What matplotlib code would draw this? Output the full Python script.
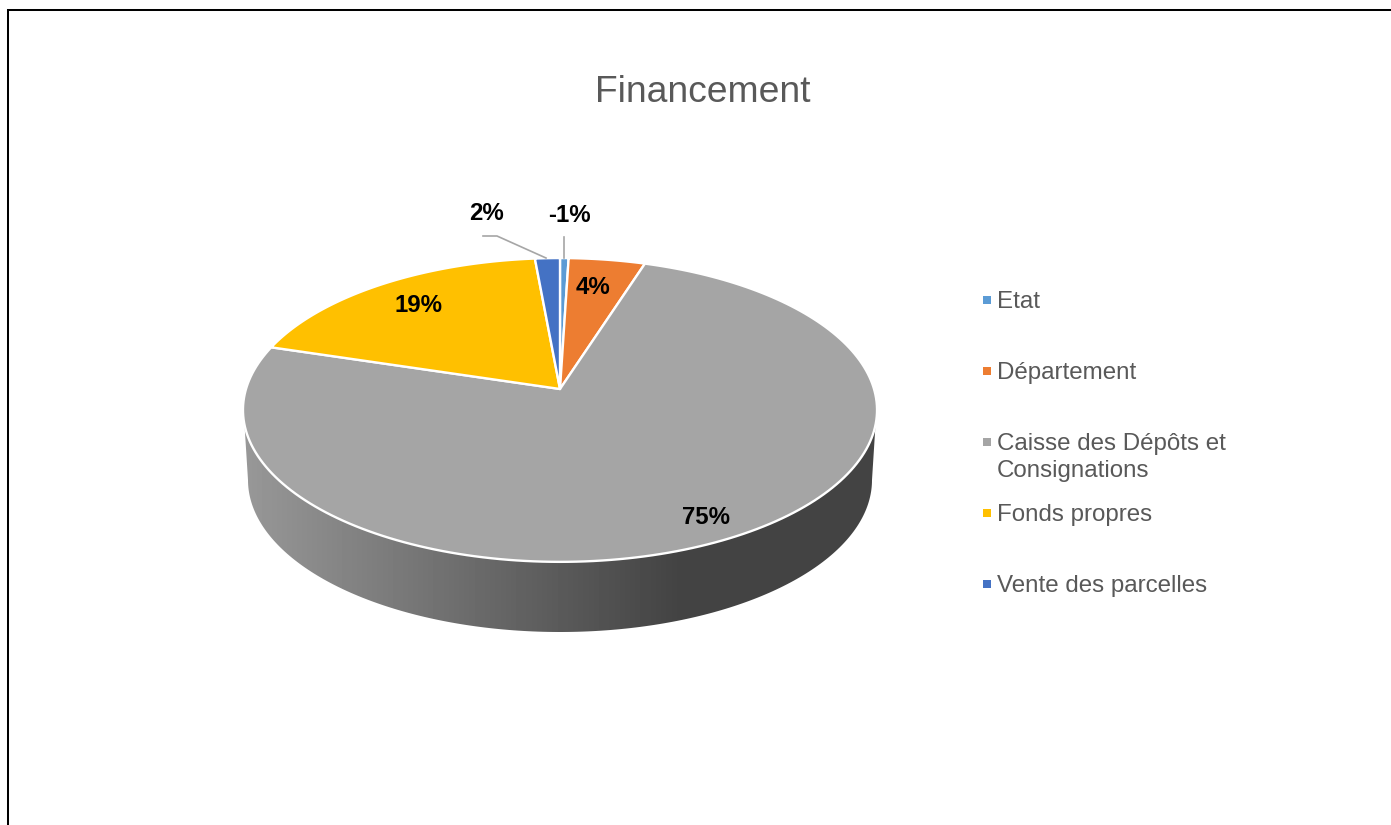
import numpy as np
import matplotlib
matplotlib.use("Agg")
import matplotlib.pyplot as plt
from matplotlib.patches import Polygon

plt.rcParams["font.family"] = ["Liberation Sans", "DejaVu Sans"]

title = "Financement"
categories = ["Etat", "Département", "Caisse des Dépôts et\nConsignations", "Fonds propres", "Vente des parcelles"]
shares = [0.5, 4.45, 74.75, 18.85, 1.45]
share_labels = ["-1%", "4%", "75%", "19%", "2%"]
colors = ["#5B9BD5", "#ED7D31", "#A5A5A5", "#FFC000", "#4472C4"]

# pie geometry in image pixels, the top face is a circle seen in perspective
CX, CY = 560, 389
RX, RY = 314, 149
PERSP = 0.138


def rim(theta):
    return (CX + RX * np.sin(theta) / (1 + PERSP * np.cos(theta)),
            CY - RY * np.cos(theta) / (1 + PERSP * np.cos(theta)))


fig = plt.figure(figsize=(13.91, 8.25), dpi=100)
ax = fig.add_axes([0, 0, 1, 1])

# side of the pie, with the grey gradient clipped to it
t = np.linspace(0, 2 * np.pi, 721)
rx, ry = rim(t)
front = ry >= 424
order = np.argsort(rx[front])
top_x, top_y = rx[front][order], ry[front][order]
a = np.linspace(np.pi, 0, 200)
bot_x, bot_y = 560 + 312 * np.cos(a), 480 + 152 * np.sin(a)
side = Polygon(np.r_[np.c_[top_x, top_y], np.c_[bot_x[::-1], bot_y[::-1]]], closed=True,
               facecolor="none", edgecolor="none", transform=ax.transData)
ax.add_patch(side)
xs = np.arange(240, 881)
greys = np.interp(xs, [243, 420, 680, 880], [0x98, 0x75, 0x43, 0x43]) / 255
img = ax.imshow(greys[None, :], cmap="gray", vmin=0, vmax=1, extent=(240, 881, 640, 420), aspect="auto", zorder=1)
img.set_clip_path(side)

# top face
edges = np.cumsum([0] + shares) / sum(shares) * 2 * np.pi
for i in range(len(shares)):
    th = np.linspace(edges[i], edges[i + 1], 200)
    x, y = rim(th)
    ax.fill(np.r_[CX, x], np.r_[CY, y], facecolor=colors[i], edgecolor="white", linewidth=1.7,
            joinstyle="round", zorder=2)

# leader lines
ax.plot([483, 497, 546], [236, 236, 258], color="#A6A6A6", linewidth=1.2, zorder=3)
ax.plot([564, 564], [237, 258], color="#A6A6A6", linewidth=1.2, zorder=3)

# data labels
label_pos = [(569, 216), (593, 287), (706, 517), (418, 306), (487, 214)]
for s, (lx, ly) in zip(share_labels, label_pos):
    ax.text(lx, ly, s, fontsize=17.3, fontweight="bold", color="black", ha="center", va="center", zorder=4)

ax.text(703, 92.5, title, fontsize=26.8, color="#595959", ha="center", va="center")

# legend
legend_y = [300, 371, 442, 513, 584]
for name, col, ly in zip(categories, colors, legend_y):
    ax.scatter([986.5], [ly], marker="s", s=33, color=col, linewidths=0, zorder=3)
    ax.text(997, ly - 9, name, fontsize=17.35, color="#595959", ha="left", va="top", linespacing=1.3)

# outer frame, only left and top show in the picture
ax.plot([8, 8, 1391], [825, 10, 10], color="black", linewidth=1.45, zorder=5, solid_joinstyle="miter")

ax.set_xlim(0, 1391)
ax.set_ylim(825, 0)
ax.axis("off")

fig.savefig("out.png", dpi=100, facecolor="white")
